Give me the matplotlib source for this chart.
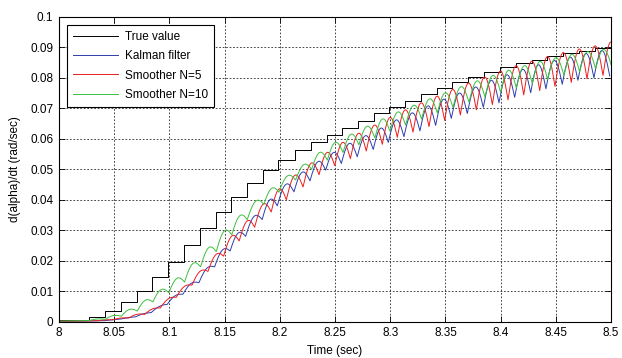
import matplotlib
matplotlib.use('Agg')
import matplotlib.pyplot as plt
import numpy as np

# true value: staircase (time offset from 8 s, level after the step)
step_t = [0.0, 0.0272, 0.0414, 0.0559, 0.0704, 0.0845, 0.0990, 0.1132, 0.1277, 0.1419,
          0.1560, 0.1700, 0.1850, 0.1987, 0.2138, 0.2283, 0.2425, 0.2567, 0.2711,
          0.2856, 0.2992, 0.3134, 0.3279, 0.3421, 0.3563, 0.3708, 0.3853, 0.3995,
          0.4137, 0.4282, 0.4420, 0.4568, 0.4710, 0.4855]
step_v = [0.0005, 0.0016, 0.0034, 0.0064, 0.0100, 0.0147, 0.0196, 0.0250, 0.0306, 0.0359,
          0.0410, 0.0454, 0.0497, 0.0532, 0.0563, 0.0588, 0.0611, 0.0634, 0.0658,
          0.0683, 0.0705, 0.0725, 0.0746, 0.0765, 0.0785, 0.0803, 0.0820, 0.0834,
          0.0847, 0.0860, 0.0871, 0.0880, 0.0888, 0.0898]

# times of the filter cusps (one per update), and lag of each curve
tooth_t = [0.0272, 0.0414, 0.0559, 0.0704, 0.0845, 0.0990, 0.1132, 0.1277, 0.1419,
           0.1560, 0.1700, 0.1850, 0.1987, 0.2138, 0.2283, 0.2425, 0.2567, 0.2711,
           0.2856, 0.2992, 0.3134, 0.3279, 0.3421, 0.3563, 0.3708, 0.3853, 0.3995,
           0.4137, 0.4282, 0.4420, 0.4568, 0.4710, 0.4855, 0.4998]
lag_kf, lag_s5, lag_s10 = -0.001, 0.0072, 0.0005

# Kalman filter: cusp values and peak of each tooth
kf_cusp = [0.0002, 0.0003, 0.0008, 0.0016, 0.0030, 0.0057, 0.0090, 0.0128, 0.0180,
           0.0232, 0.0280, 0.0335, 0.0380, 0.0426, 0.0462, 0.0497, 0.0519, 0.0541,
           0.0565, 0.0588, 0.0607, 0.0626, 0.0644, 0.0667, 0.0683, 0.0703, 0.0718,
           0.0736, 0.0751, 0.0764, 0.0779, 0.0792, 0.0800, 0.0806]
kf_peak = [0.0003, 0.0006, 0.0013, 0.0026, 0.0050, 0.0085, 0.0125, 0.0175, 0.0235,
           0.0290, 0.0345, 0.0400, 0.0450, 0.0490, 0.0525, 0.0555, 0.0585, 0.0610,
           0.0635, 0.0662, 0.0685, 0.0708, 0.0730, 0.0750, 0.0770, 0.0792, 0.0810,
           0.0828, 0.0843, 0.0857, 0.0868, 0.0880, 0.0890]

# smoother N=5
s5_cusp = [0.0003, 0.0006, 0.0012, 0.0024, 0.0045, 0.0080, 0.0120, 0.0165, 0.0215,
           0.0265, 0.0310, 0.0360, 0.0400, 0.0442, 0.0482, 0.0512, 0.0535, 0.0560,
           0.0582, 0.0605, 0.0622, 0.0640, 0.0660, 0.0678, 0.0695, 0.0712, 0.0728,
           0.0744, 0.0758, 0.0772, 0.0785, 0.0797, 0.0808, 0.0818]
s5_peak = [0.0006, 0.0012, 0.0024, 0.0042, 0.0075, 0.0115, 0.0165, 0.0220, 0.0280,
           0.0330, 0.0385, 0.0435, 0.0480, 0.0520, 0.0555, 0.0588, 0.0618, 0.0645,
           0.0670, 0.0695, 0.0718, 0.0740, 0.0762, 0.0783, 0.0803, 0.0822, 0.0840,
           0.0855, 0.0870, 0.0883, 0.0895, 0.0905, 0.0918]

# smoother N=10
s10_cusp = [0.0004, 0.0008, 0.0018, 0.0035, 0.0065, 0.0095, 0.0130, 0.0180, 0.0230,
            0.0285, 0.0335, 0.0385, 0.0425, 0.0465, 0.0500, 0.0530, 0.0555, 0.0580,
            0.0603, 0.0625, 0.0645, 0.0665, 0.0685, 0.0703, 0.0720, 0.0737, 0.0752,
            0.0767, 0.0781, 0.0795, 0.0808, 0.0820, 0.0830, 0.0840]
s10_peak = [0.0009, 0.0020, 0.0040, 0.0070, 0.0105, 0.0142, 0.0190, 0.0242, 0.0297,
            0.0347, 0.0395, 0.0437, 0.0478, 0.0515, 0.0555, 0.0588, 0.0615, 0.0641,
            0.0665, 0.0688, 0.0710, 0.0731, 0.0751, 0.0771, 0.0790, 0.0808, 0.0825,
            0.0840, 0.0854, 0.0866, 0.0877, 0.0886, 0.0893]


def arches(t, cusp, peak, lag):
    '''join the cusps with rounded teeth'''
    s = np.linspace(0, 1, 14)
    xs, ys = [0.0], [cusp[0] * 0.5]
    for i in range(len(peak)):
        a, b = t[i] + lag, t[i + 1] + lag
        ca, cb = cusp[i], cusp[i + 1]
        amp = peak[i] - (ca + cb) / 2
        xs.extend(a + (b - a) * s)
        ys.extend(ca + (cb - ca) * s + amp * np.sin(np.pi * s))
    return 8 + np.array(xs), np.array(ys)


plt.rcParams['font.family'] = ['Liberation Sans', 'DejaVu Sans']
fig = plt.figure(figsize=(6.22, 3.58), dpi=100)
ax = fig.add_axes([0.0949, 0.1014, 0.8875, 0.8516])

lw = 0.7
ax.plot(8 + np.append(step_t, 0.5), np.append(step_v, step_v[-1]),
        drawstyle='steps-post', color='k', lw=lw, label='True value')
x, y = arches(tooth_t, kf_cusp, kf_peak, lag_kf)
ax.plot(x, y, color='#2b3fae', lw=lw, label='Kalman filter')
x, y = arches(tooth_t, s5_cusp, s5_peak, lag_s5)
ax.plot(x, y, color='#ee1c1c', lw=lw, label='Smoother N=5')
x, y = arches(tooth_t, s10_cusp, s10_peak, lag_s10)
ax.plot(x, y, color='#3cc03c', lw=lw, label='Smoother N=10')

ax.set_xlim(8, 8.5)
ax.set_ylim(0, 0.1)
ax.set_xticks(np.arange(8, 8.501, 0.05))
ax.set_xticklabels(['8', '8.05', '8.1', '8.15', '8.2', '8.25', '8.3', '8.35', '8.4', '8.45', '8.5'])
ax.set_yticks(np.arange(0, 0.1001, 0.01))
ax.set_yticklabels(['0', '0.01', '0.02', '0.03', '0.04', '0.05', '0.06', '0.07', '0.08', '0.09', '0.1'])
ax.tick_params(direction='in', labelsize=8.5, length=4, width=0.6, top=True, right=True, pad=4)
ax.grid(True, color='k', linestyle=(0, (2.5, 2.5)), linewidth=0.5)
for sp in ax.spines.values():
    sp.set_linewidth(0.8)

ax.set_xlabel('Time (sec)', fontsize=8.5, labelpad=4)
ax.set_ylabel('d(alpha)/dt (rad/sec)', fontsize=8.5, labelpad=7)

leg = ax.legend(loc='upper left', fontsize=8.5, fancybox=False, edgecolor='k',
                framealpha=1, handlelength=3.8, handletextpad=0.6,
                labelspacing=0.62, borderpad=0.5, borderaxespad=0.7)
leg.get_frame().set_linewidth(0.8)

fig.savefig('out.png', dpi=100)
